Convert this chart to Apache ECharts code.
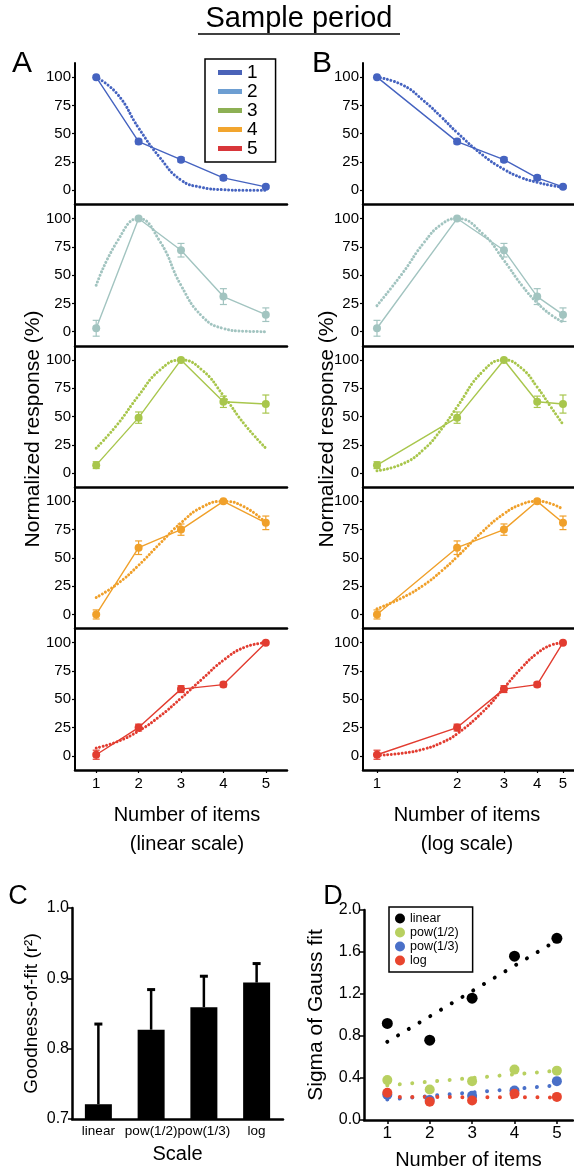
<!DOCTYPE html>
<html><head><meta charset="utf-8">
<script src="https://cdn.jsdelivr.net/npm/echarts@6/dist/echarts.min.js"></script>
<style>html,body{margin:0;padding:0;background:#fff}#c{width:574px;height:1171px}</style>
</head><body><div id="c"></div>
<script>
// ---------- data ----------
const items = [1, 2, 3, 4, 5];
const yTicks = [0, 25, 50, 75, 100];
const fitXLinear = [1, 1.5, 2, 2.5, 3, 3.5, 4, 4.5, 5];
const fitXLog = [1, 1.25, 1.5, 1.75, 2, 2.5, 3, 3.5, 4, 4.5, 5];

const resp1 = [100, 43, 27, 11, 3];  const err1 = [0, 2, 2, 2, 1];
const resp2 = [3, 100, 72, 31, 15];  const err2 = [7, 0, 6, 7, 6];
const resp3 = [7, 49, 100, 63, 61];  const err3 = [3, 5, 0, 5, 8];
const resp4 = [0, 59, 75, 100, 81];  const err4 = [4, 6, 5, 0, 6];
const resp5 = [1, 25, 59, 63, 100];  const err5 = [4, 3, 3, 2, 0];

const fitLin1 = [100, 85, 55, 29, 9, 2.5, 0.5, 0, 0];
const fitLin2 = [41, 80, 100, 80, 41, 13.5, 2.8, 0.4, 0];
const fitLin3 = [22, 43, 68.5, 91, 100, 91, 68.5, 43, 22];
const fitLin4 = [15, 27, 43.5, 62.6, 81, 95, 100, 95, 81];
const fitLin5 = [7, 12.6, 22, 35, 51, 68, 84.5, 96, 100];

const fitLog1 = [100, 93, 79, 64.5, 51, 31, 18.5, 11, 7, 4.3, 2.7];
const fitLog2 = [23, 52, 78.6, 95, 100, 86.5, 63, 41, 25.5, 15, 8.5];
const fitLog3 = [2, 8.2, 21, 39, 58.5, 90, 100, 92.5, 76, 58.5, 43];
const fitLog4 = [5, 15, 26, 38.5, 51, 73.5, 89, 97.5, 100, 98, 93];
const fitLog5 = [0.5, 2.4, 6, 11.7, 19.5, 39, 60, 78, 90.7, 97.8, 100];

const scaleNames = ['linear', 'pow(1/2)', 'pow(1/3)', 'log'];
const gof = [0.721, 0.827, 0.859, 0.894];
const gofUpper = [0.835, 0.884, 0.903, 0.921];
const gofTicks = [0.7, 0.8, 0.9, 1.0];

const sigmaLinear = [0.92, 0.76, 1.16, 1.56, 1.73];
const sigmaPow2 = [0.38, 0.29, 0.37, 0.48, 0.47];
const sigmaPow3 = [0.24, 0.19, 0.23, 0.28, 0.37];
const sigmaLog = [0.26, 0.175, 0.185, 0.25, 0.22];
const fitEndsX = [1, 5];
const sigmaFitLinear = [0.745, 1.71];
const sigmaFitPow2 = [0.33, 0.47];
const sigmaFitPow3 = [0.195, 0.33];
const sigmaFitLog = [0.22, 0.215];
const sigmaTicks = [0, 0.4, 0.8, 1.2, 1.6, 2.0];

// ---------- styles ----------
const FONT = '"Liberation Sans", Arial, sans-serif';
const panelColors = ['#4563c0', '#a2c4c0', '#a8c64c', '#f0a02a', '#e23c30'];
const legendColors = ['#4a63b8', '#6d9ed2', '#8db054', '#f2a52e', '#d8363a'];
const dColors = ['#000000', '#b8d060', '#4a70c8', '#e8452e'];

const respAll = [resp1, resp2, resp3, resp4, resp5];
const errAll = [err1, err2, err3, err4, err5];
const fitLinAll = [fitLin1, fitLin2, fitLin3, fitLin4, fitLin5];
const fitLogAll = [fitLog1, fitLog2, fitLog3, fitLog4, fitLog5];

const grids = [], xAxes = [], yAxes = [], series = [];

function errRender(params, api) {
  const x = api.value(0), y = api.value(1), e = api.value(2);
  if (!e) return null;
  const c = api.visual('color');
  const t = api.coord([x, y + e]), b = api.coord([x, y - e]);
  const w = 3.5;
  const st = { stroke: c, lineWidth: 1.2 };
  return { type: 'group', children: [
    { type: 'line', shape: { x1: t[0], y1: t[1], x2: b[0], y2: b[1] }, style: st },
    { type: 'line', shape: { x1: t[0] - w, y1: t[1], x2: t[0] + w, y2: t[1] }, style: st },
    { type: 'line', shape: { x1: b[0] - w, y1: b[1], x2: b[0] + w, y2: b[1] }, style: st }
  ]};
}

const PANEL_TOP = 63, PANEL_H = 141.4;
[0, 1].forEach(col => {
  const isLog = col === 1;
  const tx = isLog ? (v => Math.log(v)) : (v => v);
  for (let i = 0; i < 5; i++) {
    const g = grids.length;
    grids.push({ left: isLog ? 363 : 75, top: PANEL_TOP + PANEL_H * i, width: isLog ? 211 : 212, height: PANEL_H });
    xAxes.push({
      gridIndex: g, type: 'value',
      min: isLog ? Math.log(0.886) : 0.5, max: isLog ? Math.log(5.5) : 5.5,
      axisLine: { show: true, onZero: false, lineStyle: { color: '#000', width: 2.5 } },
      axisTick: { show: i === 4, length: 3, customValues: items.map(tx), lineStyle: { color: '#000', width: 1.2 } },
      axisLabel: { show: i === 4, customValues: items.map(tx), color: '#000', fontSize: 15, fontFamily: FONT, margin: 6,
        formatter: v => String(Math.round(isLog ? Math.exp(v) : v)) },
      splitLine: { show: false }
    });
    yAxes.push({
      gridIndex: g, type: 'value', min: -12.5, max: 112.5,
      axisLine: { show: true, onZero: false, lineStyle: { color: '#000', width: 2 } },
      axisTick: { show: true, length: 3, customValues: yTicks, lineStyle: { color: '#000', width: 1.2 } },
      axisLabel: { customValues: yTicks, color: '#000', fontSize: 15, fontFamily: FONT, margin: 4 },
      splitLine: { show: false }
    });
    const color = panelColors[i];
    const fx = isLog ? fitXLog : fitXLinear;
    const fy = isLog ? fitLogAll[i] : fitLinAll[i];
    series.push({
      type: 'line', name: 'fit' + (i + 1), xAxisIndex: g, yAxisIndex: g, silent: true,
      data: fx.map((x, k) => [tx(x), fy[k]]), smooth: true, symbol: 'none', z: 2,
      lineStyle: { color: color, width: 3, type: [0.01, 3.6], cap: 'round' }
    });
    series.push({
      type: 'line', name: String(i + 1), xAxisIndex: g, yAxisIndex: g,
      data: items.map((n, k) => [tx(n), respAll[i][k]]), symbol: 'circle', symbolSize: 8, z: 4,
      itemStyle: { color: color }, lineStyle: { color: color, width: 1.4 }
    });
    series.push({
      type: 'custom', name: 'err' + (i + 1), xAxisIndex: g, yAxisIndex: g, z: 3,
      itemStyle: { color: color }, renderItem: errRender,
      data: items.map((n, k) => [tx(n), respAll[i][k], errAll[i][k]])
    });
  }
});

// ---------- Panel C ----------
const gC = grids.length;
grids.push({ left: 72, top: 908, width: 211, height: 211 });
xAxes.push({
  gridIndex: gC, type: 'category', data: scaleNames,
  axisLine: { lineStyle: { color: '#000', width: 2.5 } }, axisTick: { show: false },
  axisLabel: { color: '#000', fontSize: 13.5, fontFamily: FONT, margin: 5, interval: 0 },
  name: 'Scale', nameLocation: 'middle', nameGap: 25,
  nameTextStyle: { color: '#000', fontSize: 20, fontFamily: FONT }
});
yAxes.push({
  gridIndex: gC, type: 'value', min: 0.7, max: 1.0,
  axisLine: { show: true, lineStyle: { color: '#000', width: 2.5 } },
  axisTick: { show: true, length: 4, customValues: gofTicks, lineStyle: { color: '#000', width: 1.5 } },
  axisLabel: { customValues: gofTicks, color: '#000', fontSize: 16, fontFamily: FONT, margin: 3, formatter: v => v.toFixed(1) },
  splitLine: { show: false },
  name: 'Goodness-of-fit (r²)', nameLocation: 'middle', nameGap: 31,
  nameTextStyle: { color: '#000', fontSize: 19, fontFamily: FONT }
});
series.push({ type: 'bar', name: 'gof', xAxisIndex: gC, yAxisIndex: gC, data: gof, barWidth: 27, itemStyle: { color: '#000' }, z: 2 });
series.push({
  type: 'custom', name: 'gofErr', xAxisIndex: gC, yAxisIndex: gC, z: 3,
  data: scaleNames.map((s, k) => [k, gof[k], gofUpper[k]]),
  renderItem: (params, api) => {
    const b = api.coord([api.value(0), api.value(1)]);
    const t = api.coord([api.value(0), api.value(2)]);
    return { type: 'group', children: [
      { type: 'line', shape: { x1: b[0], y1: b[1], x2: t[0], y2: t[1] }, style: { stroke: '#000', lineWidth: 2.5 } },
      { type: 'line', shape: { x1: t[0] - 4, y1: t[1], x2: t[0] + 4, y2: t[1] }, style: { stroke: '#000', lineWidth: 3 } }
    ]};
  }
});

// ---------- Panel D ----------
const gD = grids.length;
grids.push({ left: 364, top: 910, width: 209, height: 210 });
xAxes.push({
  gridIndex: gD, type: 'value', min: 0.45, max: 5.38,
  axisLine: { show: true, onZero: false, lineStyle: { color: '#000', width: 2.5 } },
  axisTick: { show: true, length: 4, customValues: items, lineStyle: { color: '#000', width: 1.5 } },
  axisLabel: { customValues: items, color: '#000', fontSize: 17, fontFamily: FONT, margin: 5 },
  splitLine: { show: false },
  name: 'Number of items', nameLocation: 'middle', nameGap: 30,
  nameTextStyle: { color: '#000', fontSize: 20, fontFamily: FONT }
});
yAxes.push({
  gridIndex: gD, type: 'value', min: 0, max: 2.0, interval: 0.4,
  axisLine: { show: true, onZero: false, lineStyle: { color: '#000', width: 2.5 } },
  axisTick: { show: true, length: 4, lineStyle: { color: '#000', width: 1.5 } },
  axisLabel: { color: '#000', fontSize: 16, fontFamily: FONT, margin: 3, formatter: v => v.toFixed(1) },
  splitLine: { show: false },
  name: 'Sigma of Gauss fit', nameLocation: 'middle', nameGap: 37,
  nameTextStyle: { color: '#000', fontSize: 21, fontFamily: FONT }
});
const dNames = ['linear', 'pow(1/2)', 'pow(1/3)', 'log'];
const dVals = [sigmaLinear, sigmaPow2, sigmaPow3, sigmaLog];
const dFits = [sigmaFitLinear, sigmaFitPow2, sigmaFitPow3, sigmaFitLog];
dNames.forEach((nm, k) => {
  series.push({
    type: 'line', name: nm + ' fit', xAxisIndex: gD, yAxisIndex: gD, silent: true, symbol: 'none', z: 2,
    data: fitEndsX.map((x, j) => [x, dFits[k][j]]),
    lineStyle: { color: dColors[k], width: 4, type: [0.01, 12.5], cap: 'round' }
  });
  series.push({
    type: 'scatter', name: nm, xAxisIndex: gD, yAxisIndex: gD, z: 3,
    data: items.map((n, j) => [n, dVals[k][j]]), symbolSize: k === 0 ? 11 : 10,
    itemStyle: { color: dColors[k], opacity: 1 }
  });
});

const textStyle = (t, x, y, size, rot) => ({
  type: 'text', x: x, y: y, rotation: rot || 0, silent: true,
  style: { text: t, fill: '#000', fontSize: size, fontFamily: FONT, align: 'center', verticalAlign: 'middle' }
});

const option = {
  animation: false,
  backgroundColor: '#fff',
  grid: grids, xAxis: xAxes, yAxis: yAxes, series: series,
  legend: [
    {
      left: 205, top: 59, orient: 'vertical', itemWidth: 24, itemHeight: 5, itemGap: 0,
      padding: [4, 18, 4, 13], borderColor: '#000', borderWidth: 1.5, selectedMode: false,
      textStyle: { color: '#000', fontSize: 19, lineHeight: 18, fontFamily: FONT },
      data: ['1', '2', '3', '4', '5'].map((n, k) => ({ name: n, icon: 'rect', itemStyle: { color: legendColors[k] } }))
    },
    {
      left: 389, top: 907, orient: 'vertical', itemWidth: 10, itemHeight: 10, itemGap: 1,
      padding: [5, 14, 5, 6], borderColor: '#000', borderWidth: 1.5, selectedMode: false,
      textStyle: { color: '#000', fontSize: 12.5, lineHeight: 13, fontFamily: FONT },
      data: dNames.map((n, k) => ({ name: n, icon: 'circle', itemStyle: { color: dColors[k] } }))
    }
  ],
  graphic: [
    textStyle('Sample period', 299, 19, 29),
    { type: 'line', silent: true, shape: { x1: 198, y1: 34, x2: 400, y2: 34 }, style: { stroke: '#000', lineWidth: 1.5 } },
    textStyle('A', 22, 64, 30),
    textStyle('B', 322, 64, 30),
    textStyle('C', 18, 897, 27),
    textStyle('D', 333, 897, 27),
    textStyle('Normalized response (%)', 33, 429, 21, Math.PI / 2),
    textStyle('Normalized response (%)', 327, 429, 21, Math.PI / 2),
    textStyle('Number of items', 187, 815, 20),
    textStyle('(linear scale)', 187, 844, 20),
    textStyle('Number of items', 467, 815, 20),
    textStyle('(log scale)', 467, 844, 20)
  ]
};
const chart = echarts.init(document.getElementById('c'), null, { renderer: 'canvas', width: 574, height: 1171 });
chart.setOption(option);
</script>
</body></html>
